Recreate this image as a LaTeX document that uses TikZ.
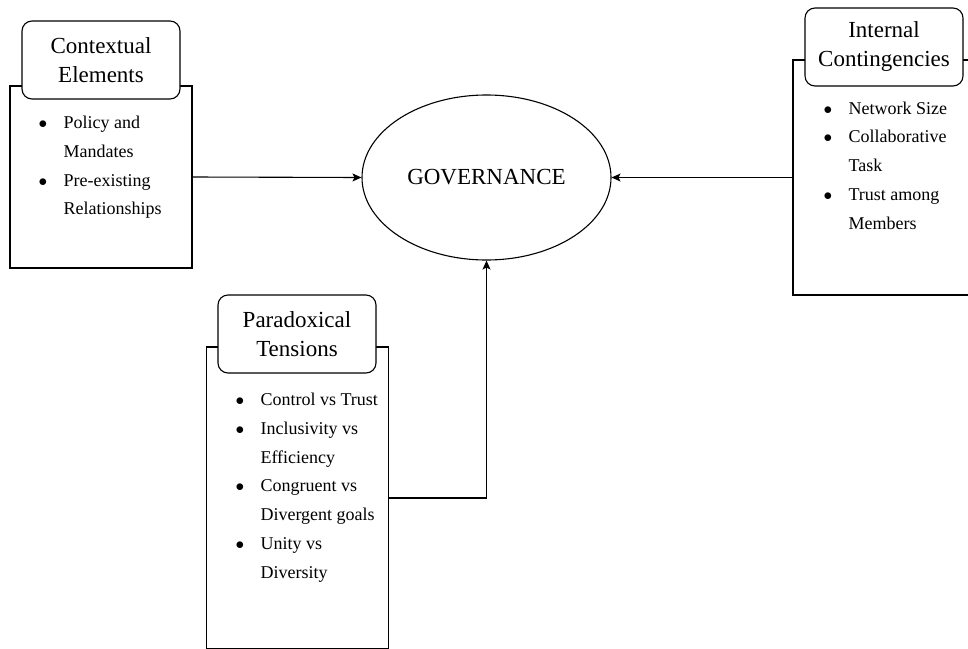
\documentclass[tikz,border=0pt]{standalone}
\usepackage{fontspec}
\setmainfont{Liberation Serif}
\usetikzlibrary{positioning,arrows.meta,shapes.geometric}

\newcommand{\bul}{\makebox[22pt][l]{\hspace{-3pt}$\bullet$}}
\newcommand{\cont}{\hspace*{22pt}}

\begin{document}
\begin{tikzpicture}[x=1pt,y=-1pt,>={Stealth[length=9pt,width=8pt,inset=2pt]},line width=1.1pt,
  panel/.style={draw,rectangle,minimum width=182pt,inner sep=0pt},
  panelhead/.style={draw,fill=white,rounded corners=10pt,minimum width=158pt,minimum height=78pt,
    align=center,inner sep=0pt,font=\fontsize{23}{29}\selectfont},
  bullets/.style={anchor=north west,inner sep=0pt,align=left,
    font=\fontsize{18}{28.8}\selectfont},
  hub/.style={ellipse,draw,minimum width=249pt,minimum height=165pt,inner sep=0pt,
    font=\fontsize{23}{29}\selectfont}]
  \useasboundingbox (0,0) rectangle (968,648);
  \clip (0,0) rectangle (968,648);
  % --- centre ---
  \node[hub] (gov) at (486.5,177.5) {GOVERNANCE};
  % --- contextual elements ---
  \node[panel,minimum height=182pt] (ctxbody) at (101,177) {};
  \node[panelhead] (ctxhead) at (101,60) {Contextual\\Elements};
  \node[bullets] (ctxlist) at (41,115.5)
    {\bul Policy and\\\cont Mandates\\\bul Pre-existing\\\cont Relationships};
  % --- internal contingencies ---
  \node[panel,minimum height=235pt] (intbody) at (884,177.5) {};
  \node[panelhead] (inthead) at (884,47) {Internal\\Contingencies};
  \node[bullets] (intlist) at (826,101)
    {\bul Network Size\\\bul Collaborative\\\cont Task\\\bul Trust among\\\cont Members};
  % --- paradoxical tensions ---
  \node[panel,minimum height=302pt] (parbody) at (297.5,498) {};
  \node[panelhead] (parhead) at (297,334) {Paradoxical\\Tensions};
  \node[bullets] (parlist) at (238,392.5)
    {\bul Control vs Trust\\\bul Inclusivity vs\\\cont Efficiency\\\bul Congruent vs\\
     \cont Divergent goals\\\bul Unity vs\\\cont Diversity};
  % --- connectors ---
  \draw[->] (ctxbody.east) -- (gov.west);
  \draw[->] (intbody.west) -- (gov.east);
  \draw[->] (parbody.east) -| (gov.south);
\end{tikzpicture}
\end{document}
